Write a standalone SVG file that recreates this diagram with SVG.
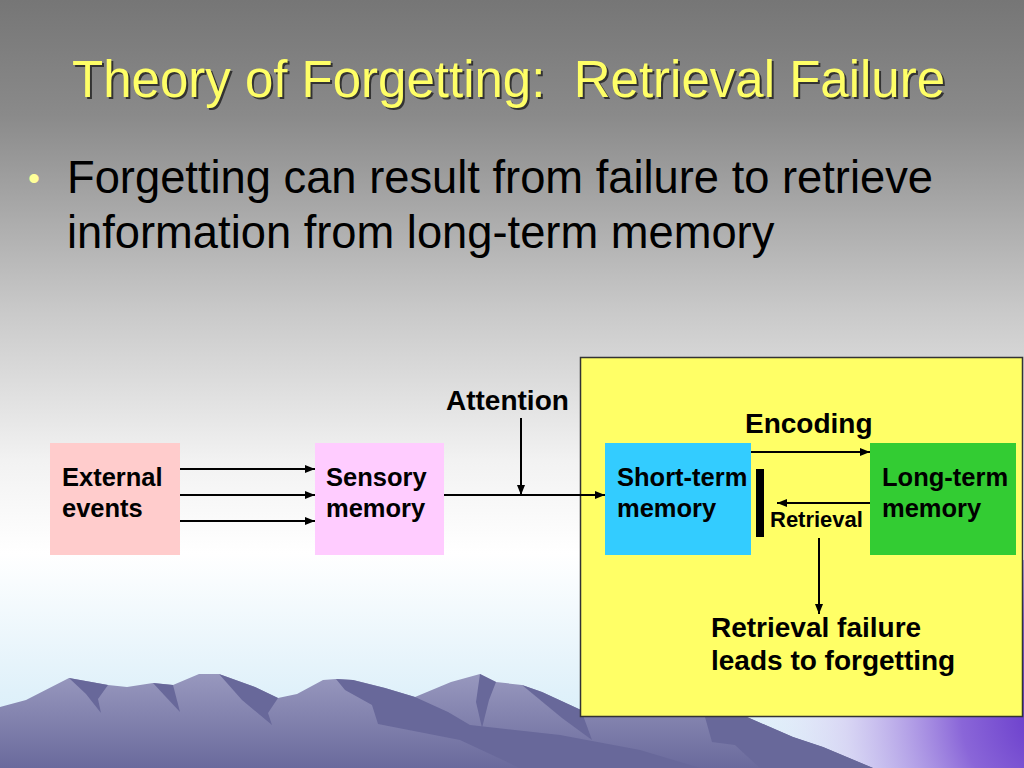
<svg xmlns="http://www.w3.org/2000/svg" width="1024" height="768" viewBox="0 0 1024 768">
<defs>
<linearGradient id="bg" x1="0" y1="0" x2="0" y2="1">
<stop offset="0" stop-color="#767676"/>
<stop offset="0.15" stop-color="#8a8a8a"/>
<stop offset="0.4" stop-color="#c8c8c8"/>
<stop offset="0.6" stop-color="#f2f2f2"/>
<stop offset="0.72" stop-color="#ffffff"/>
<stop offset="0.9" stop-color="#e0f1fa"/>
<stop offset="1" stop-color="#d2ecf8"/>
</linearGradient>
<radialGradient id="glow" cx="1060" cy="715" r="330" gradientUnits="userSpaceOnUse">
<stop offset="0" stop-color="#6030c8"/>
<stop offset="0.3" stop-color="#8a66d8"/>
<stop offset="0.65" stop-color="#d8ccf2" stop-opacity="0.7"/>
<stop offset="1" stop-color="#ffffff" stop-opacity="0"/>
</radialGradient>
<linearGradient id="mtn" x1="0" y1="0" x2="0" y2="1">
<stop offset="0" stop-color="#9898be"/>
<stop offset="1" stop-color="#6a6a9c"/>
</linearGradient>
<marker id="ah" markerWidth="10" markerHeight="8" refX="10" refY="4" orient="auto" markerUnits="userSpaceOnUse">
<path d="M0,0 L10,4 L0,8 Z" fill="#000"/>
</marker>
<style>
.t{font-family:"Liberation Sans",Arial,sans-serif}
.b{font-family:"Liberation Sans",Arial,sans-serif;font-weight:bold;fill:#000}
.lab{font-size:25.5px}
.big{font-size:28px}
.ln{stroke:#000;stroke-width:2;fill:none}
.dark{fill:#68689a}
</style>
</defs>

<rect x="0" y="0" width="1024" height="768" fill="url(#bg)"/>
<rect x="560" y="560" width="464" height="208" fill="url(#glow)"/>

<g id="mountains">
<path d="M0,707 L26,700 L69,678 L108,685 L127,687 L153,683 L173,685 L199,674 L219,674 L255,687 L278,698 L297,694 L323,680 L336,679 L353,680 L385,688 L415,697 L451,682 L480,674 L496,682 L522,685 L542,692 L581,710 L747,717 L793,737 L823,747 L873,768 L0,768 Z" fill="url(#mtn)"/>
<path class="dark" d="M69,678 L108,685 L98,699 L101,713 L86,694 Z"/>
<path class="dark" d="M153,683 L173,685 L180,712 L165,696 Z"/>
<path class="dark" d="M219,674 L255,687 L278,698 L268,713 L272,725 L242,700 Z"/>
<path class="dark" d="M336,679 L353,680 L385,688 L415,697 L448,712 L470,725 L560,735 L640,750 L700,768 L520,768 L460,740 L378,724 L372,705 L345,690 Z"/>
<path class="dark" d="M480,674 L496,682 L489,700 L482,728 L476,702 Z"/>
<path class="dark" d="M522,685 L542,692 L581,710 L592,740 L562,718 Z"/>
<path class="dark" d="M705,717 L747,717 L793,737 L823,747 L873,768 L760,768 L735,745 L712,742 Z"/>
</g>

<g id="title">
<text class="t" x="74" y="99" font-size="51" fill="#333" xml:space="preserve">Theory of Forgetting:&#160; Retrieval Failure</text>
<text class="t" x="72" y="97" font-size="51" fill="#ffff66" xml:space="preserve">Theory of Forgetting:&#160; Retrieval Failure</text>
</g>

<g id="bullet">
<text class="t" x="28" y="190" font-size="34" fill="#ffff99">•</text>
<text class="t" x="67" y="193" font-size="45.3" fill="#000">Forgetting can result from failure to retrieve</text>
<text class="t" x="67" y="248" font-size="45.3" fill="#000">information from long-term memory</text>
</g>

<g id="stm-panel">
<rect x="580.5" y="357.5" width="442" height="359" fill="#ffff66" stroke="#333" stroke-width="1.5"/>
</g>

<g id="external-events">
<rect x="50" y="443" width="130" height="112" fill="#ffcccc"/>
<text class="b lab"><tspan x="62" y="486">External</tspan><tspan x="62" y="517">events</tspan></text>
</g>

<g id="sensory-memory">
<rect x="315" y="443" width="129" height="112" fill="#ffccff"/>
<text class="b lab"><tspan x="326" y="486">Sensory</tspan><tspan x="326" y="517">memory</tspan></text>
</g>

<g id="short-term-memory">
<rect x="605" y="443" width="146" height="112" fill="#33ccff"/>
<text class="b lab"><tspan x="617" y="486">Short-term</tspan><tspan x="617" y="517">memory</tspan></text>
</g>

<g id="long-term-memory">
<rect x="870" y="443" width="146" height="112" fill="#33cc33"/>
<text class="b lab"><tspan x="882" y="486">Long-term</tspan><tspan x="882" y="517">memory</tspan></text>
</g>

<g id="retrieval-block">
<rect x="756" y="469" width="8" height="68" fill="#000"/>
</g>

<g id="labels">
<text class="b big" x="446" y="410">Attention</text>
<text class="b big" x="745" y="433">Encoding</text>
<text class="b" x="770" y="527" font-size="22">Retrieval</text>
<text class="b big"><tspan x="711" y="637">Retrieval failure</tspan><tspan x="711" y="670">leads to forgetting</tspan></text>
</g>

<g id="connectors">
<line class="ln" x1="180" y1="469" x2="315" y2="469" marker-end="url(#ah)"/>
<line class="ln" x1="180" y1="495" x2="315" y2="495" marker-end="url(#ah)"/>
<line class="ln" x1="180" y1="521" x2="315" y2="521" marker-end="url(#ah)"/>
<line class="ln" x1="444" y1="495" x2="605" y2="495" marker-end="url(#ah)"/>
<line class="ln" x1="521" y1="418" x2="521" y2="495" marker-end="url(#ah)"/>
<line class="ln" x1="751" y1="452" x2="870" y2="452" marker-end="url(#ah)"/>
<line class="ln" x1="870" y1="503" x2="777" y2="503" marker-end="url(#ah)"/>
<line class="ln" x1="819" y1="538" x2="819" y2="614" marker-end="url(#ah)"/>
</g>
</svg>
